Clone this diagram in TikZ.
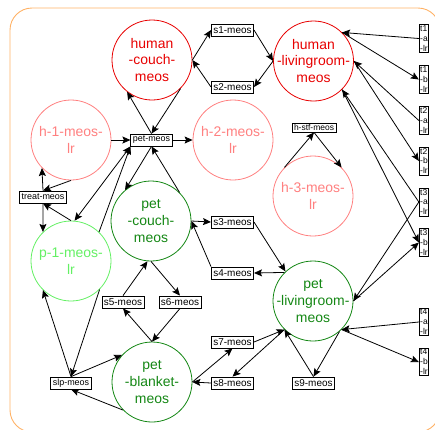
\documentclass[tikz,border=0pt]{standalone}
\usepackage{fontspec}
\setmainfont{Liberation Sans}
\usetikzlibrary{arrows.meta}
\definecolor{hred}{RGB}{232,0,0}
\definecolor{hpink}{RGB}{255,128,128}
\definecolor{pgreen}{RGB}{20,135,20}
\definecolor{plight}{RGB}{100,240,100}
\definecolor{frameorange}{RGB}{255,178,102}
\begin{document}
\begin{tikzpicture}[x=1bp,y=-1bp,
  state/.style={circle,draw,fill=white,minimum size=80bp,inner sep=0pt,line width=0.8bp},
  lbl/.style={align=center,font=\fontsize{14}{17}\selectfont,inner sep=0pt},
  sbox/.style={draw,fill=white,line width=0.8bp,inner xsep=2bp,inner ysep=1bp,minimum height=12bp,font=\fontsize{10}{12}\selectfont},
  smallbox/.style={draw,fill=white,line width=0.8bp,inner xsep=2bp,inner ysep=1bp,minimum height=12bp,font=\fontsize{9}{11}\selectfont},
  tbox/.style={draw,fill=white,line width=0.8bp,inner sep=1bp,align=left,font=\fontsize{8.5}{10}\selectfont},
  arr/.style={line width=0.8bp,-{Stealth[length=8bp,width=7bp,inset=1.5bp]}},
  arrboth/.style={line width=0.8bp,{Stealth[length=8bp,width=7bp,inset=1.5bp]}-{Stealth[length=8bp,width=7bp,inset=1.5bp]}},
  frame/.style={draw=frameorange,line width=0.9bp,rounded corners=22bp}
]
\useasboundingbox (0,0) rectangle (435,429);
\path[frame] (10,8) rectangle (440,432);

% states
\node[state,draw=hred,label={[lbl,text=hred]center:human\\-couch-\\meos}] (hc) at (152,60) {};
\node[state,draw=hred,label={[lbl,text=hred]center:human\\-livingroom-\\meos}] (hl) at (313.5,61) {};
\node[state,draw=hpink,label={[lbl,text=hpink]center:h-1-meos-\\lr}] (h1) at (71,140) {};
\node[state,draw=hpink,label={[lbl,text=hpink]center:h-2-meos-\\lr}] (h2) at (233,140) {};
\node[state,draw=hpink,label={[lbl,text=hpink]center:h-3-meos-\\lr}] (h3) at (313,196) {};
\node[state,draw=pgreen,label={[lbl,text=pgreen]center:pet\\-couch-\\meos}] (pc) at (151,221) {};
\node[state,draw=plight,label={[lbl,text=plight]center:p-1-meos-\\lr}] (p1) at (71,261) {};
\node[state,draw=pgreen,label={[lbl,text=pgreen]center:pet\\-blanket-\\meos}] (pb) at (152,382) {};
\node[state,draw=pgreen,label={[lbl,text=pgreen]center:pet\\-livingroom-\\meos}] (pl) at (313,301) {};

% transition boxes
\node[sbox] (s1) at (232.5,30) {s1-meos};
\node[sbox] (s2) at (232.5,87) {s2-meos};
\node[sbox] (s3) at (232.5,222) {s3-meos};
\node[sbox] (s4) at (232.5,273) {s4-meos};
\node[sbox] (s5) at (123,302) {s5-meos};
\node[sbox] (s6) at (180,302) {s6-meos};
\node[sbox] (s7) at (232.5,342) {s7-meos};
\node[sbox] (s8) at (232.5,383) {s8-meos};
\node[sbox] (s9) at (313.5,383) {s9-meos};
\node[smallbox] (pm) at (151.5,140) {pet-meos};
\node[smallbox] (tm) at (43,197) {treat-meos};
\node[smallbox] (slp) at (71,383) {slp-meos};
\node[smallbox,minimum height=9bp,inner ysep=0pt,font=\fontsize{8.5}{9}\selectfont] (hs) at (314,127.5) {h-stf-meos};

% trigger boxes
\node[tbox] (t1a) at (424,38.5) {t1\\-a\\-lr};
\node[tbox] (t1b) at (424,79.5) {t1\\-b\\-lr};
\node[tbox] (t2a) at (424,120.5) {t2\\-a\\-lr};
\node[tbox] (t2b) at (424,161) {t2\\-b\\-lr};
\node[tbox] (t3a) at (424,202) {t3\\-a\\-lr};
\node[tbox] (t3b) at (424,242.5) {t3\\-b\\-lr};
\node[tbox] (t4a) at (424,322) {t4\\-a\\-lr};
\node[tbox] (t4b) at (424,362) {t4\\-b\\-lr};

% human couch / livingroom cycle
\draw[arr] (hc.0) -- (s1.west);
\draw[arr] (s1.east) -- (hl.180);
\draw[arr] (hl.180) -- (s2.east);
\draw[arr] (s2.west) -- (hc.0);

% pet-meos hub
\draw[arr] (pm.north) -- (hc.232);
\draw[arr] (hc.315) -- (pm.north);
\draw[arr] (h1.0) -- (pm.west);
\draw[arr] (pm.east) -- (h2.180);
\draw[arr] (pm.south) -- (pc.130);
\draw[arr] (pc.45) -- (pm.south);
\draw[arrboth] (pm.south west) -- (p1.85);
\draw[arr] (p1.46) -- (pm.south west);

% treat-meos
\draw[arr] (h1.270) -- (tm.north);
\draw[arr] (tm.north) -- (h1.224);
\draw[arr] (tm.south) -- (p1.134);
\draw[arr] (p1.90) -- (tm.south);

% slp-meos
\draw[arr] (slp.north) -- (p1.226);
\draw[arr] (p1.315) -- (slp.north);
\draw[arr] (slp.north) -- (pb.138);
\draw[arr] (pb.224) -- (slp.south);

% pet couch / blanket / livingroom
\draw[arr] (s5.north) -- (pc.265);
\draw[arr] (pc.south) -- (s6.north);
\draw[arr] (pb.north) -- (s5.south);
\draw[arr] (s6.south) -- (pb.north);
\draw[arr] (pc.0) -- (s3.west);
\draw[arr] (s4.north west) -- (pc.0);
\draw[arr] (s3.east) -- (pl.133);
\draw[arr] (pl.135) -- (s4.east);
\draw[arr] (s7.east) -- (pl.225);
\draw[arr] (pl.225) -- (s8.north);
\draw[arr] (s8.west) -- (pb.0);
\draw[arr] (pb.0) -- (s7.south);
\draw[arr] (pl.311) -- (s9.north);
\draw[arr] (s9.north) -- (pl.225);

% h-stf-meos
\draw[arr] (h3.135) -- (hs.south);
\draw[arr] (hs.south) -- (h3.45);

% triggers
\draw[arr] (t1a.west) -- (hl.45);
\draw[arr] (hl.45) -- (t1b.west);
\draw[arr] (t2a.west) -- (hl.0);
\draw[arr] (hl.0) -- (t2b.west);
\draw[arr] (t3a.west) -- (hl.315);
\draw[arr] (hl.315) -- (t3b.west);
\draw[arr] (t3a.west) -- (pl.0);
\draw[arr] (pl.0) -- (t3b.west);
\draw[arr] (t4a.west) -- (pl.315);
\draw[arr] (pl.315) -- (t4b.west);
\end{tikzpicture}
\end{document}
